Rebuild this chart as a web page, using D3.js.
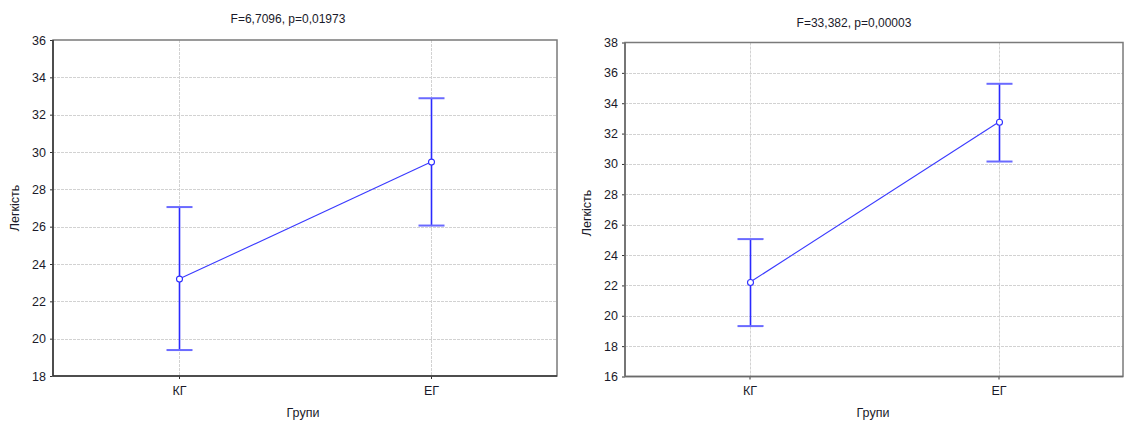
<!DOCTYPE html>
<html>
<head>
<meta charset="utf-8">
<script src="https://cdn.jsdelivr.net/npm/d3@7"></script>
<style>
  html, body { margin: 0; padding: 0; background: #fff; }
  svg { display: block; }
  text { font-family: "Liberation Sans", Arial, sans-serif; fill: #1a1a2a; }
</style>
</head>
<body>
<svg id="chart" width="1125" height="421"></svg>
<script>
// ---- data ----
const categories = ["КГ", "ЕГ"];

const titleA = "F=6,7096, p=0,01973";
const meansA = [23.19, 29.46];
const upperA = [27.05, 32.88];
const lowerA = [19.39, 26.06];
const yTicksA = [18, 20, 22, 24, 26, 28, 30, 32, 34, 36];

const titleB = "F=33,382, p=0,00003";
const meansB = [22.19, 32.75];
const upperB = [25.05, 35.28];
const lowerB = [19.32, 30.16];
const yTicksB = [16, 18, 20, 22, 24, 26, 28, 30, 32, 34, 36, 38];

const xLabel = "Групи";
const yLabel = "Легкість";

// ---- drawing ----
const svg = d3.select("#chart");

function panel(cfg) {
  const g = svg.append("g");
  const x = d3.scalePoint().domain(categories).range([cfg.x0, cfg.x1]).padding(0.5);
  const y = d3.scaleLinear().domain([cfg.ticks[0], cfg.ticks[cfg.ticks.length - 1]]).range([cfg.y1, cfg.y0]);

  // grid
  g.append("g").selectAll("line.h").data(cfg.ticks.slice(1, -1)).join("line")
    .attr("x1", cfg.x0).attr("x2", cfg.x1)
    .attr("y1", d => Math.round(y(d)) + 0.5).attr("y2", d => Math.round(y(d)) + 0.5)
    .attr("stroke", "#d2d2d2").attr("stroke-width", 1).attr("stroke-dasharray", "3,1");
  g.append("g").selectAll("line.v").data(categories).join("line")
    .attr("x1", d => Math.round(x(d)) + 0.5).attr("x2", d => Math.round(x(d)) + 0.5)
    .attr("y1", cfg.y0).attr("y2", cfg.y1)
    .attr("stroke", "#d2d2d2").attr("stroke-width", 1).attr("stroke-dasharray", "3,1");

  // y axis
  const ya = g.append("g").attr("transform", `translate(${cfg.x0},0)`)
    .call(d3.axisLeft(y).tickValues(cfg.ticks).tickSize(3).tickPadding(4).tickFormat(d3.format("d")));
  ya.select(".domain").remove();
  ya.selectAll(".tick line").attr("stroke", "#333");
  ya.selectAll(".tick text").attr("font-size", 12.5).attr("fill", "#1a1a2a")
    .style("font-family", "'Liberation Sans', Arial, sans-serif");

  // x axis
  const xa = g.append("g").attr("transform", `translate(0,${cfg.y1})`)
    .call(d3.axisBottom(x).tickSize(3).tickPadding(7));
  xa.select(".domain").remove();
  xa.selectAll(".tick line").attr("stroke", "#333");
  xa.selectAll(".tick text").attr("font-size", 12.5).attr("fill", "#1a1a2a")
    .style("font-family", "'Liberation Sans', Arial, sans-serif");

  // frame
  g.append("rect").attr("x", cfg.x0).attr("y", cfg.y0)
    .attr("width", cfg.x1 - cfg.x0).attr("height", cfg.y1 - cfg.y0)
    .attr("fill", "none").attr("stroke", "#7a7a7a").attr("stroke-width", 1.5);
  g.append("line").attr("x1", cfg.x0).attr("x2", cfg.x0).attr("y1", cfg.y0).attr("y2", cfg.y1)
    .attr("stroke", cfg.darkFrame).attr("stroke-width", 1.5);
  g.append("line").attr("x1", cfg.x0).attr("x2", cfg.x1).attr("y1", cfg.y1).attr("y2", cfg.y1)
    .attr("stroke", cfg.darkFrame).attr("stroke-width", 1.5);

  // connecting line
  const pts = categories.map((c, i) => [x(c), y(cfg.means[i])]);
  g.append("path").attr("d", d3.line()(pts))
    .attr("fill", "none").attr("stroke", "#3a3aff").attr("stroke-width", 1.1);

  // error bars
  categories.forEach((c, i) => {
    const cx = Math.round(x(c)) + 0.5;
    g.append("line").attr("x1", cx).attr("x2", cx)
      .attr("y1", y(cfg.upper[i])).attr("y2", y(cfg.lower[i]))
      .attr("stroke", "#2a2aff").attr("stroke-width", 1.6);
    [cfg.upper[i], cfg.lower[i]].forEach(v => {
      g.append("line").attr("x1", cx - 13).attr("x2", cx + 13)
        .attr("y1", y(v)).attr("y2", y(v))
        .attr("stroke", "#6a6aff").attr("stroke-width", 2);
    });
  });

  // mean markers
  g.selectAll("circle").data(categories).join("circle")
    .attr("cx", d => Math.round(x(d)) + 0.5).attr("cy", (d, i) => y(cfg.means[i]))
    .attr("r", 3).attr("fill", "#fff").attr("stroke", "#3030ff").attr("stroke-width", 1.1);

  // title
  g.append("text").attr("x", cfg.titleX).attr("y", cfg.titleY).attr("text-anchor", "middle")
    .attr("font-size", 12).text(cfg.title);
  // x label
  g.append("text").attr("x", cfg.xLabelX).attr("y", 417).attr("text-anchor", "middle")
    .attr("font-size", 12.5).text(xLabel);
  // y label
  g.append("text").attr("transform", `translate(${cfg.yLabelX},${cfg.yLabelY}) rotate(-90)`)
    .attr("text-anchor", "middle").attr("font-size", 12.5).text(yLabel);
}

panel({
  x0: 53, x1: 557, y0: 40, y1: 376,
  ticks: yTicksA, means: meansA, upper: upperA, lower: lowerA,
  title: titleA, titleX: 288, titleY: 23,
  xLabelX: 303, yLabelX: 19, yLabelY: 208, darkFrame: "#333"
});

panel({
  x0: 625, x1: 1123, y0: 42.5, y1: 376.5,
  ticks: yTicksB, means: meansB, upper: upperB, lower: lowerB,
  title: titleB, titleX: 854, titleY: 27,
  xLabelX: 873, yLabelX: 591, yLabelY: 213, darkFrame: "#6a6a6a"
});
</script>
</body>
</html>
